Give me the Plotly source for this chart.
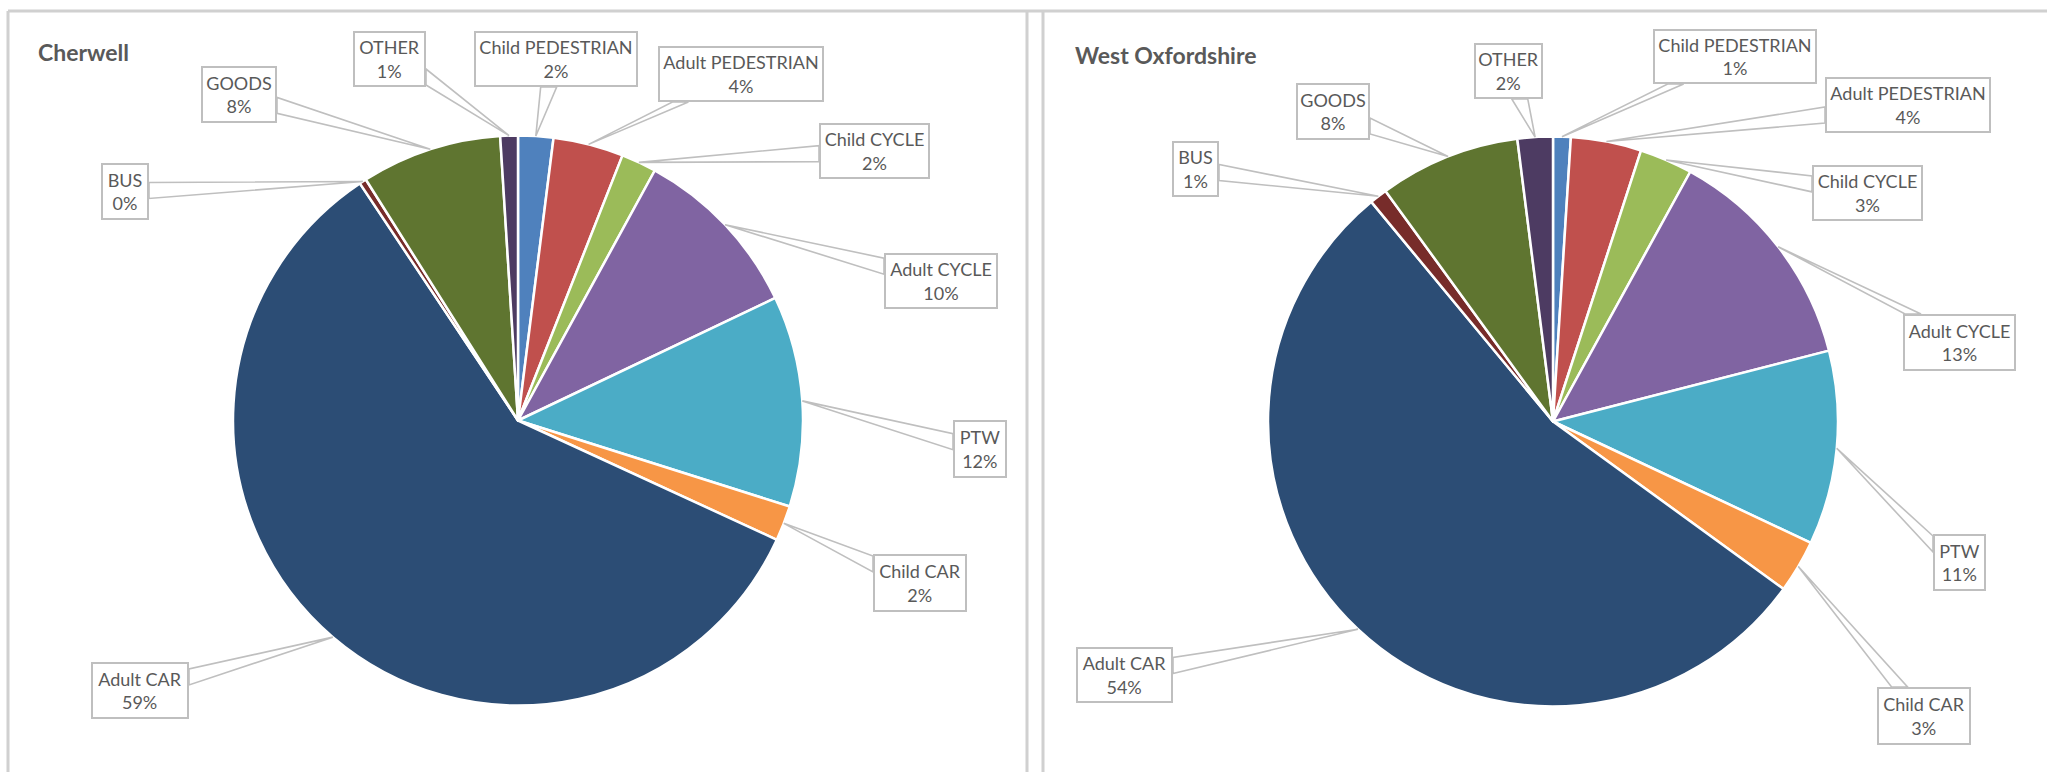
import math
import plotly.graph_objects as go

W, H = 2047, 772

# Casualty groups, in drawing order (clockwise from 12 o'clock)
categories = [
    "Child PEDESTRIAN", "Adult PEDESTRIAN", "Child CYCLE", "Adult CYCLE", "PTW",
    "Child CAR", "Adult CAR", "BUS", "GOODS", "OTHER",
]

# Share of casualties (%) by group
cherwell_pct = [2, 4, 2, 10, 12, 2, 59, 0.4, 8, 1]
west_oxon_pct = [1, 4, 3, 13, 11, 3, 54, 1, 8, 2]

slice_colors = [
    "#4F81BD", "#C0504D", "#9BBB59", "#8064A2", "#4BACC6",
    "#F79646", "#2C4D75", "#772C2A", "#5F7530", "#4D3B62",
]

TEXT_COLOR = "#595959"
CALLOUT_LINE = "#BFBFBF"
FRAME_LINE = "#D0D0D0"
FONT = "Lato"

# Panel layout in pixels: title, pie centre/radius and callout boxes (x0, y0, x1, y1)
panels = [
    dict(
        title="Cherwell", title_xy=(36, 52),
        values=cherwell_pct, center=(518, 420.5), radius=285,
        boxes={
            "Child PEDESTRIAN": (474, 31, 638, 87),
            "Adult PEDESTRIAN": (658, 46, 824, 102),
            "Child CYCLE": (819, 123, 930, 179),
            "Adult CYCLE": (884, 253, 998, 309),
            "PTW": (953, 420, 1007, 478),
            "Child CAR": (873, 554, 967, 612),
            "Adult CAR": (91, 662, 189, 719),
            "BUS": (101, 163, 149, 220),
            "GOODS": (201, 66, 277, 123),
            "OTHER": (353, 31, 426, 87),
        },
    ),
    dict(
        title="West Oxfordshire", title_xy=(1073, 55),
        values=west_oxon_pct, center=(1553, 421.5), radius=285,
        boxes={
            "Child PEDESTRIAN": (1653, 29, 1817, 84),
            "Adult PEDESTRIAN": (1825, 77, 1991, 133),
            "Child CYCLE": (1812, 165, 1923, 221),
            "Adult CYCLE": (1903, 314, 2016, 371),
            "PTW": (1933, 534, 1986, 591),
            "Child CAR": (1877, 687, 1971, 745),
            "Adult CAR": (1076, 647, 1173, 703),
            "BUS": (1172, 141, 1219, 197),
            "GOODS": (1296, 83, 1370, 140),
            "OTHER": (1474, 43, 1543, 99),
        },
    ),
]


def px(x):
    return x / W


def py(y):
    return 1 - y / H


fig = go.Figure()
shapes = []
annotations = []

# Chart frames
shapes.append(dict(type="line", xref="paper", yref="paper", x0=px(8), x1=1.0,
                   y0=py(11), y1=py(11), line=dict(color=FRAME_LINE, width=3), layer="below"))
for xv in (8, 1027, 1043):
    shapes.append(dict(type="line", xref="paper", yref="paper", x0=px(xv), x1=px(xv),
                       y0=py(11), y1=-0.05, line=dict(color=FRAME_LINE, width=3), layer="below"))

for panel in panels:
    vals = panel["values"]
    cx, cy = panel["center"]
    r = panel["radius"]
    total = sum(vals)

    fig.add_trace(go.Pie(
        labels=categories, values=vals, sort=False, direction="clockwise", rotation=0,
        marker=dict(colors=slice_colors, line=dict(color="white", width=2.5)),
        textinfo="none", hoverinfo="label+percent", showlegend=False,
        domain=dict(x=[px(cx - r), px(cx + r)], y=[py(cy + r), py(cy - r)]),
    ))

    tx, ty = panel["title_xy"]
    annotations.append(dict(
        xref="paper", yref="paper", x=px(tx), y=py(ty), xanchor="left", yanchor="middle",
        text=f"<b>{panel['title']}</b>", showarrow=False,
        font=dict(family=FONT, size=23, color=TEXT_COLOR),
    ))

    cum = 0.0
    for name, v in zip(categories, vals):
        mid = (cum + v / 2) / total * 2 * math.pi
        cum += v
        tip = (cx + r * math.sin(mid), cy - r * math.cos(mid))

        x0, y0, x1, y1 = panel["boxes"][name]
        bcx, bcy = (x0 + x1) / 2, (y0 + y1) / 2
        hw, hh = (x1 - x0) / 2, (y1 - y0) / 2
        dx, dy = tip[0] - bcx, tip[1] - bcy
        sx = hw / abs(dx) if dx else float("inf")
        sy = hh / abs(dy) if dy else float("inf")
        half = 8
        if sx < sy:
            ex, ey = bcx + dx * sx, bcy + dy * sx
            ey = min(max(ey, y0 + half + 2), y1 - half - 2)
            b1, b2 = (ex, ey - half), (ex, ey + half)
        else:
            ex, ey = bcx + dx * sy, bcy + dy * sy
            ex = min(max(ex, x0 + half + 2), x1 - half - 2)
            b1, b2 = (ex - half, ey), (ex + half, ey)

        path = "M {:.5f},{:.5f} L {:.5f},{:.5f} L {:.5f},{:.5f} Z".format(
            px(tip[0]), py(tip[1]), px(b1[0]), py(b1[1]), px(b2[0]), py(b2[1]))
        shapes.append(dict(type="path", xref="paper", yref="paper", path=path,
                           fillcolor="white", line=dict(color=CALLOUT_LINE, width=1.6),
                           layer="above"))

        pct = int(v / total * 100 + 0.5)
        annotations.append(dict(
            xref="paper", yref="paper", x=px(bcx), y=py(bcy),
            xanchor="center", yanchor="middle",
            text=f"{name}<br>{pct}%", showarrow=False,
            width=x1 - x0 - 4, height=y1 - y0 - 4,
            bgcolor="white", bordercolor=CALLOUT_LINE, borderwidth=2, borderpad=0,
            font=dict(family=FONT, size=18, color=TEXT_COLOR),
        ))

fig.update_layout(
    width=W, height=H,
    margin=dict(l=0, r=0, t=0, b=0),
    paper_bgcolor="white", plot_bgcolor="white",
    showlegend=False,
    shapes=shapes, annotations=annotations,
)

fig.write_html("out.html")
